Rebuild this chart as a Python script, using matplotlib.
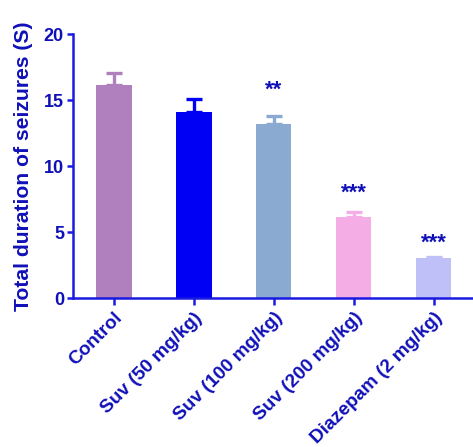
import matplotlib
matplotlib.use("Agg")
import matplotlib.pyplot as plt
from matplotlib.transforms import ScaledTranslation

groups = ["Control", "Suv (50 mg/kg)", "Suv (100 mg/kg)", "Suv (200 mg/kg)", "Diazepam (2 mg/kg)"]
means = [16.1, 14.1, 13.2, 6.15, 3.0]
sems = [0.95, 0.95, 0.6, 0.4, 0.07]
stars = ["", "", "**", "***", "***"]
star_y = [0, 0, 14.95, 7.15, 3.35]
colors = ["#B07FBE", "#0000F5", "#8BAAD2", "#F5ADE6", "#C0C0F8"]

INK = "#1010B8"
AXC = "#1A1AE0"

plt.rcParams["font.family"] = ["Liberation Sans", "DejaVu Sans"]
plt.rcParams["font.weight"] = "bold"

fig = plt.figure(figsize=(4.73, 4.47), dpi=100)
ax = fig.add_axes([0.1543, 0.3333, 0.8457, 0.5906])

x = list(range(len(groups)))
ax.bar(x, means, width=0.44, color=colors, zorder=2)
for i in x:
    ax.errorbar(i, means[i], yerr=[[0], [sems[i]]], fmt="none", ecolor=colors[i],
                elinewidth=2.4, capsize=6, capthick=2.4, zorder=1)
    if stars[i]:
        ax.text(i, star_y[i], stars[i], ha="center", va="bottom",
                fontsize=16, color=INK, fontweight="bold")

ax.set_xlim(-0.5125, 4.49)
ax.set_ylim(0, 20)
ax.set_yticks([0, 5, 10, 15, 20])
ax.set_xticks(x)
ax.set_xticklabels(groups, rotation=45, ha="right", rotation_mode="anchor",
                   fontsize=13.7, color=INK, fontweight="bold")
# nudge the slanted group names a little to the left
shift = ScaledTranslation(-0.035, 0, fig.dpi_scale_trans)
for lab in ax.get_xticklabels():
    lab.set_transform(lab.get_transform() + shift)
ax.tick_params(axis="y", labelsize=13, labelcolor=INK, color=AXC, width=1.8, length=4.5, pad=2)
ax.tick_params(axis="x", color=AXC, width=1.8, length=5, pad=3)
for lab in ax.get_yticklabels():
    lab.set_fontweight("bold")

for s in ["top", "right"]:
    ax.spines[s].set_visible(False)
for s in ["left", "bottom"]:
    ax.spines[s].set_color(AXC)
    ax.spines[s].set_linewidth(1.8)

ax.set_ylabel("Total duration of seizures (S)", fontsize=15.2, color=INK, fontweight="bold")
ax.yaxis.set_label_coords(-0.1, 0.5)

fig.savefig("out.png", dpi=100)
